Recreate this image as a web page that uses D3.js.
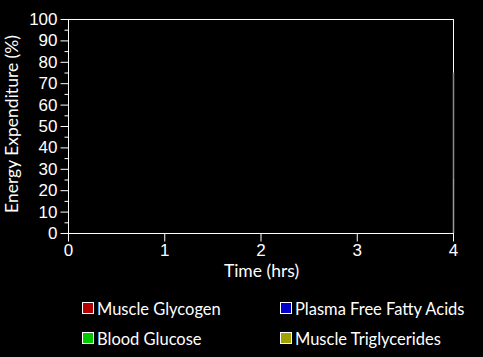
<!DOCTYPE html>
<html>
<head>
<meta charset="utf-8">
<script src="https://cdn.jsdelivr.net/npm/d3@7"></script>
<style>
  body { margin: 0; background: #000; }
  svg { display: block; font-family: "Lato", "Open Sans", sans-serif; }
  .axis text { fill: #fff; font-size: 17px; }
  .axis path, .axis line { stroke: #fff; }
</style>
</head>
<body>
<svg id="chart" width="483" height="357"></svg>
<script>
// Fuel sources, stacked, one sample per time point
const times = [4];
const muscleGlycogen = [25];
const bloodGlucose = [0];
const plasmaFFA = [50];
const muscleTriglycerides = [0];

const seriesNames = ["Muscle Glycogen", "Blood Glucose", "Plasma Free Fatty Acids", "Muscle Triglycerides"];
const seriesColors = ["#b40000", "#00c800", "#0000c8", "#a0a000"];
const xTicks = [0, 1, 2, 3, 4];

const svg = d3.select("#chart");
const margin = { left: 68, top: 19, right: 30, bottom: 124 };
const W = 483, H = 357;

let x = d3.scaleLinear().domain([0, 4]).range([margin.left, W - margin.right]);
let y = d3.scaleLinear().domain([0, 100]).range([H - margin.bottom, margin.top]);

svg.append("rect").attr("width", W).attr("height", H).attr("fill", "#000");

// frame
svg.append("rect")
  .attr("x", x(0) + 0.5).attr("y", y(100) + 0.5)
  .attr("width", x(4) - x(0)).attr("height", y(0) - y(100))
  .attr("fill", "none").attr("stroke", "#fff");

// stacked areas
let rows = times.map((t, i) => ({
  t: t,
  s0: muscleGlycogen[i], s1: bloodGlucose[i], s2: plasmaFFA[i], s3: muscleTriglycerides[i]
}));
let stack = d3.stack().keys(["s0", "s1", "s2", "s3"])(rows);
let area = d3.area()
  .x(d => x(d.data.t))
  .y0(d => y(d[0]))
  .y1(d => y(d[1]));

svg.append("g").selectAll("path").data(stack).join("path")
  .attr("d", area)
  .attr("transform", "translate(0.5,0)")
  .attr("fill", (d, i) => seriesColors[i])
  .attr("stroke", (d, i) => i === 0 ? "#9a9a9a" : "#8a8a8a")
  .attr("stroke-width", 1.5);

// y axis (major every 10, minor every 5)
svg.append("g").attr("class", "axis")
  .attr("transform", `translate(${margin.left + 0.5},0)`)
  .call(d3.axisLeft(y).tickValues(d3.range(5, 100, 10)).tickSize(4).tickFormat(""))
  .call(g => g.select(".domain").remove());

svg.append("g").attr("class", "axis")
  .attr("transform", `translate(${margin.left + 0.5},0)`)
  .call(d3.axisLeft(y).tickValues(d3.range(0, 101, 10)).tickSize(8).tickPadding(3))
  .call(g => g.select(".domain").remove());

// x axis
svg.append("g").attr("class", "axis")
  .attr("transform", `translate(0,${y(0) + 0.5})`)
  .call(d3.axisBottom(x).tickValues(xTicks).tickSize(8).tickPadding(2).tickFormat(d3.format("d")))
  .call(g => g.select(".domain").remove());

// axis titles
svg.append("text")
  .attr("x", (x(0) + x(4)) / 2 + 1).attr("y", 277)
  .attr("text-anchor", "middle").attr("fill", "#fff").attr("font-size", 17.5)
  .text("Time (hrs)");

svg.append("text")
  .attr("transform", `translate(18,${(y(0) + y(100)) / 2 - 2}) rotate(-90)`)
  .attr("text-anchor", "middle").attr("fill", "#fff").attr("font-size", 17.5)
  .text("Energy Expenditure (%)");

// legend
let legendPos = [[82, 302], [82, 332], [280, 302], [280, 332]];
let order = [0, 1, 2, 3];
let legend = svg.append("g").selectAll("g").data(order).join("g")
  .attr("transform", i => `translate(${legendPos[i][0]},${legendPos[i][1]})`);
legend.append("rect")
  .attr("x", 0.5).attr("y", 0.5).attr("width", 11).attr("height", 11)
  .attr("fill", i => seriesColors[i]).attr("stroke", "#fff");
legend.append("text")
  .attr("x", 15).attr("y", 12.5)
  .attr("fill", "#fff").attr("font-size", 16.5)
  .text(i => seriesNames[i]);
</script>
</body>
</html>
